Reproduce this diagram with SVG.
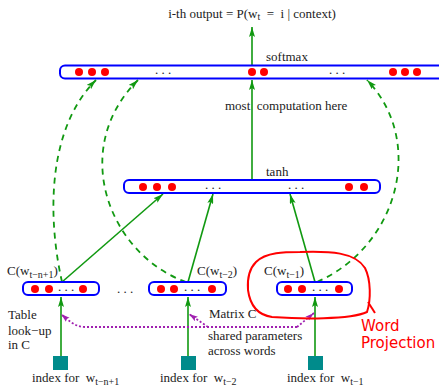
<svg xmlns="http://www.w3.org/2000/svg" width="439" height="387" viewBox="0 0 439 387">
<defs>
<marker id="ag" viewBox="0 0 10 6" refX="10" refY="3" markerWidth="10" markerHeight="6" markerUnits="userSpaceOnUse" orient="auto"><path d="M0,0 L10,3 L0,6 L2,3 z" fill="#119911"/></marker>
<marker id="ap" viewBox="0 0 10 6" refX="10" refY="3" markerWidth="9" markerHeight="6" markerUnits="userSpaceOnUse" orient="auto"><path d="M0,0 L10,3 L0,6 L2,3 z" fill="#a020b0"/></marker>
</defs>
<style>
.bar{fill:#fff;stroke:#0000ff;stroke-width:2}
.dot{fill:#ff0000}
.t{font-family:"Liberation Serif",serif;font-size:13px;fill:#222;white-space:pre}
.s{font-size:10px}
.g{fill:none;stroke:#119911;stroke-width:1.6}
.gd{fill:none;stroke:#119911;stroke-width:1.8;stroke-dasharray:6,5}
.p{fill:none;stroke:#a020b0;stroke-width:1.8;stroke-dasharray:2,2}
.sq{fill:#008b8b}
.red{fill:none;stroke:#ff0000;stroke-width:2}
.wp{font-family:"DejaVu Sans",sans-serif;font-size:15px;fill:#ff0000}
</style>

<g id="connectors">
<path class="g" d="M252,65 L252,27" marker-end="url(#ag)"/>
<path class="g" d="M252,180 L252,80" marker-end="url(#ag)"/>
<path class="g" d="M62,282 L163,194" marker-end="url(#ag)"/>
<path class="g" d="M188,282 L213,194" marker-end="url(#ag)"/>
<path class="g" d="M315,282 L290,194" marker-end="url(#ag)"/>
<path class="gd" d="M62,282 C48,220 46,130 96,80" marker-end="url(#ag)"/>
<path class="gd" d="M186,282 C110,255 68,150 138,80" marker-end="url(#ag)"/>
<path class="gd" d="M317,282 C400,245 425,140 367,80" marker-end="url(#ag)"/>
<path class="g" d="M61,356 L61,297" marker-end="url(#ag)"/>
<path class="g" d="M188,356 L188,297" marker-end="url(#ag)"/>
<path class="g" d="M315,356 L315,297" marker-end="url(#ag)"/>
<path class="p" d="M297,327 L85,327 C75,327 68,320 61,314" marker-end="url(#ap)"/>
<path class="p" d="M297,327 L314,313" marker-end="url(#ap)"/>
<path class="p" d="M208,327 L189,314" marker-end="url(#ap)"/>
</g>

<g id="title"><text class="t" x="252" y="18" text-anchor="middle" font-size="14">i-th output = P(w<tspan class="s" dy="2">t</tspan><tspan dy="-2">  =  i | context)</tspan></text></g>

<g id="softmax">
<rect class="bar" x="60" y="65.5" width="384" height="13" rx="5"/>
<circle class="dot" cx="79" cy="72" r="4"/><circle class="dot" cx="92" cy="72" r="4"/><circle class="dot" cx="105" cy="72" r="4"/>
<circle class="dot" cx="252" cy="72" r="4"/><circle class="dot" cx="264" cy="72" r="4"/>
<circle class="dot" cx="393" cy="72" r="4"/><circle class="dot" cx="405" cy="72" r="4"/><circle class="dot" cx="417" cy="72" r="4"/>
<text class="t" x="163" y="74" text-anchor="middle">. . .</text>
<text class="t" x="337" y="74" text-anchor="middle">. . .</text>
<text class="t" x="266" y="61">softmax</text>
</g>

<text class="t" x="225" y="110">most  computation here</text>

<g id="tanh">
<rect class="bar" x="124" y="180" width="256" height="13" rx="5"/>
<circle class="dot" cx="143" cy="187" r="4"/><circle class="dot" cx="157" cy="187" r="4"/><circle class="dot" cx="172" cy="187" r="4"/>
<circle class="dot" cx="349" cy="187" r="4"/><circle class="dot" cx="364" cy="187" r="4"/>
<text class="t" x="213" y="189" text-anchor="middle">. . .</text>
<text class="t" x="296" y="189" text-anchor="middle">. . .</text>
<text class="t" x="266" y="176">tanh</text>
</g>

<g id="proj1">
<rect class="bar" x="23" y="282" width="76" height="13" rx="5"/>
<circle class="dot" cx="35" cy="289" r="4"/><circle class="dot" cx="49" cy="289" r="4"/><circle class="dot" cx="83" cy="289" r="4"/>
<text class="t" x="66" y="291" text-anchor="middle">. . .</text>
<text class="t" x="7" y="275">C(w<tspan class="s" dy="3">t−n+1</tspan><tspan dy="-3">)</tspan></text>
</g>
<text class="t" x="125" y="293" text-anchor="middle">. . .</text>
<g id="proj2">
<rect class="bar" x="149" y="282" width="77" height="13" rx="5"/>
<circle class="dot" cx="161" cy="289" r="4"/><circle class="dot" cx="174" cy="289" r="4"/><circle class="dot" cx="212" cy="289" r="4"/>
<text class="t" x="192" y="291" text-anchor="middle">. . .</text>
<text class="t" x="197" y="275">C(w<tspan class="s" dy="3">t−2</tspan><tspan dy="-3">)</tspan></text>
</g>
<g id="proj3">
<rect class="bar" x="277" y="282" width="75" height="13" rx="5"/>
<circle class="dot" cx="288" cy="289" r="4"/><circle class="dot" cx="302" cy="289" r="4"/><circle class="dot" cx="339" cy="289" r="4"/>
<text class="t" x="320" y="291" text-anchor="middle">. . .</text>
<text class="t" x="264" y="275">C(w<tspan class="s" dy="3">t−1</tspan><tspan dy="-3">)</tspan></text>
</g>

<g id="idx1"><rect class="sq" x="53" y="356" width="15" height="14"/><text class="t" x="32" y="382">index for  w<tspan class="s" dy="3">t−n+1</tspan></text></g>
<g id="idx2"><rect class="sq" x="181" y="356" width="15" height="14"/><text class="t" x="160" y="382">index for  w<tspan class="s" dy="3">t−2</tspan></text></g>
<g id="idx3"><rect class="sq" x="308" y="356" width="15" height="14"/><text class="t" x="287" y="382">index for  w<tspan class="s" dy="3">t−1</tspan></text></g>

<g id="notes">
<text class="t" x="8" y="319">Table</text>
<text class="t" x="8" y="335">look−up</text>
<text class="t" x="8" y="349">in C</text>
<text class="t" x="209" y="318">Matrix C</text>
<text class="t" x="208" y="340" font-size="12.5">shared parameters</text>
<text class="t" x="208" y="354.5" font-size="12.5">across words</text>
</g>

<g id="word-projection">
<path class="red" d="M256,262 C266,252 285,252 300,252 C330,251 355,252 365,268 C371,280 371,300 367,312 C350,320 300,319 272,317 C258,315 250,305 248,290 C247,277 250,268 256,262 Z"/>
<path class="red" d="M368,302 L375,313"/>
<text class="wp" x="361" y="331">Word</text>
<text class="wp" x="361" y="348">Projection</text>
</g>
</svg>
